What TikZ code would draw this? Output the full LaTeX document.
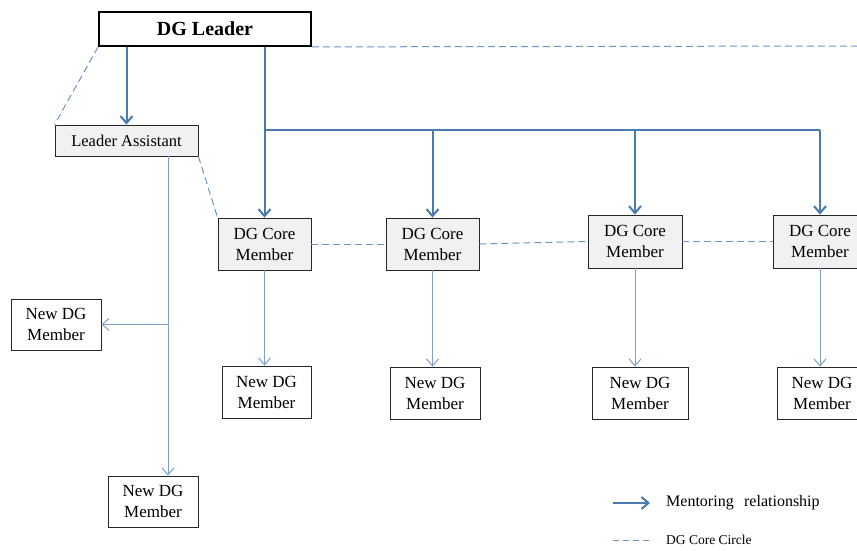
\documentclass[tikz,border=0pt]{standalone}
\usepackage{fontspec}
\setmainfont{Liberation Serif}
\usetikzlibrary{arrows.meta}
\definecolor{thickblue}{HTML}{4A7BAF}
\definecolor{thinblue}{HTML}{7FA0C8}
\definecolor{dashblue}{HTML}{6A95C6}
\definecolor{boxgray}{HTML}{F1F1F1}
\tikzset{
  box/.style={draw=black!85, line width=0.8pt, align=center, inner sep=0pt,
    font=\fontsize{17}{21}\selectfont},
  graybox/.style={box, fill=boxgray},
  mentor/.style={draw=thickblue, line width=2pt, -{Straight Barb[length=7pt,width=12pt,line width=2pt]}},
  thinarrow/.style={draw=thinblue, line width=1pt, -{Straight Barb[length=7pt,width=12pt,line width=1pt]}},
  thickline/.style={draw=thickblue, line width=2pt},
  thinline/.style={draw=thinblue, line width=1pt},
  circleline/.style={draw=dashblue, line width=1pt, dash pattern=on 7pt off 4pt},
  legtext/.style={anchor=west, inner sep=0pt},
}
\begin{document}
\begin{tikzpicture}[x=1pt,y=-1pt]
\clip (0,0) rectangle (857,551);
\fill[white] (0,0) rectangle (857,551);
% nodes
\node[box, draw=black, line width=1.8pt, minimum width=212pt, minimum height=34pt,
      font=\fontsize{20}{22}\selectfont\bfseries] (lead) at (205,29) {DG Leader};
\node[graybox, minimum width=143pt, minimum height=31pt, font=\fontsize{16.5}{20}\selectfont] (la) at (126.5,140.5) {Leader Assistant};
\node[graybox, minimum width=93pt, minimum height=52pt] (c1) at (264.5,244) {DG Core\\Member};
\node[graybox, minimum width=93pt, minimum height=52pt] (c2) at (432.5,244) {DG Core\\Member};
\node[graybox, minimum width=94pt, minimum height=53pt] (c3) at (635,241.5) {DG Core\\Member};
\node[graybox, minimum width=94pt, minimum height=53pt] (c4) at (820,241.5) {DG Core\\Member};
\node[box, minimum width=89pt, minimum height=52pt] (n1) at (266.5,392) {New DG\\Member};
\node[box, minimum width=90pt, minimum height=52pt] (n2) at (435,393) {New DG\\Member};
\node[box, minimum width=96pt, minimum height=52pt] (n3) at (640,393) {New DG\\Member};
\node[box, minimum width=90pt, minimum height=52pt] (n4) at (822,393) {New DG\\Member};
\node[box, minimum width=90pt, minimum height=51pt] (nl) at (56,324.5) {New DG\\Member};
\node[box, minimum width=90pt, minimum height=51pt] (nb) at (153,501.5) {New DG\\Member};
% named free ends
\coordinate (bar) at (264,130);
\coordinate (lav) at (168,156);
\coordinate (lbr) at (168,324.5);
\coordinate (topend) at (860,46);
% dashed core circle
\draw[circleline] (lead.south east) -- (topend);
\draw[circleline] (lead.south west) -- (la.north west);
\draw[circleline] (la.south east) -- (c1.north west);
\draw[circleline] (c1.east) -- (c2.west);
\draw[circleline] (c2.east) -- (c3.west);
\draw[circleline] (c3.east) -- (c4.west);
% mentoring (thick)
\draw[mentor] (lead.south -| la.north) -- (la.north);
\draw[mentor] (lead.south -| c1.north) -- (c1.north);
\draw[thickline] (c1.north |- bar) -- (c2.north |- bar) -- (c3.north |- bar) -- (c4.north |- bar);
\draw[mentor] (c2.north |- bar) -- (c2.north);
\draw[mentor] (c3.north |- bar) -- (c3.north);
\draw[mentor] (c4.north |- bar) -- (c4.north);
% thin arrows
\draw[thinarrow] (c1.south) -- (c1.south |- n1.north);
\draw[thinarrow] (c2.south) -- (c2.south |- n2.north);
\draw[thinarrow] (c3.south) -- (c3.south |- n3.north);
\draw[thinarrow] (c4.south) -- (c4.south |- n4.north);
\draw[thinarrow] (lav) -- (lav |- nb.north);
\draw[thinarrow] (lbr) -- (nl.east);
% legend
\coordinate (m1) at (613,503);
\coordinate (m2) at (650,503);
\coordinate (d1) at (613,540);
\coordinate (d2) at (650,540);
\draw[mentor] (m1) -- (m2);
\draw[draw=dashblue, line width=1pt, dash pattern=on 6pt off 4pt] (d1) -- (d2);
\node[legtext, font=\fontsize{16}{18}\selectfont] (lm) at (666,503) {Mentoring\hspace{0.4em} relationship};
\node[legtext, font=\fontsize{13.5}{16}\selectfont] (ld) at (666,540) {DG Core Circle};
\end{tikzpicture}
\end{document}
